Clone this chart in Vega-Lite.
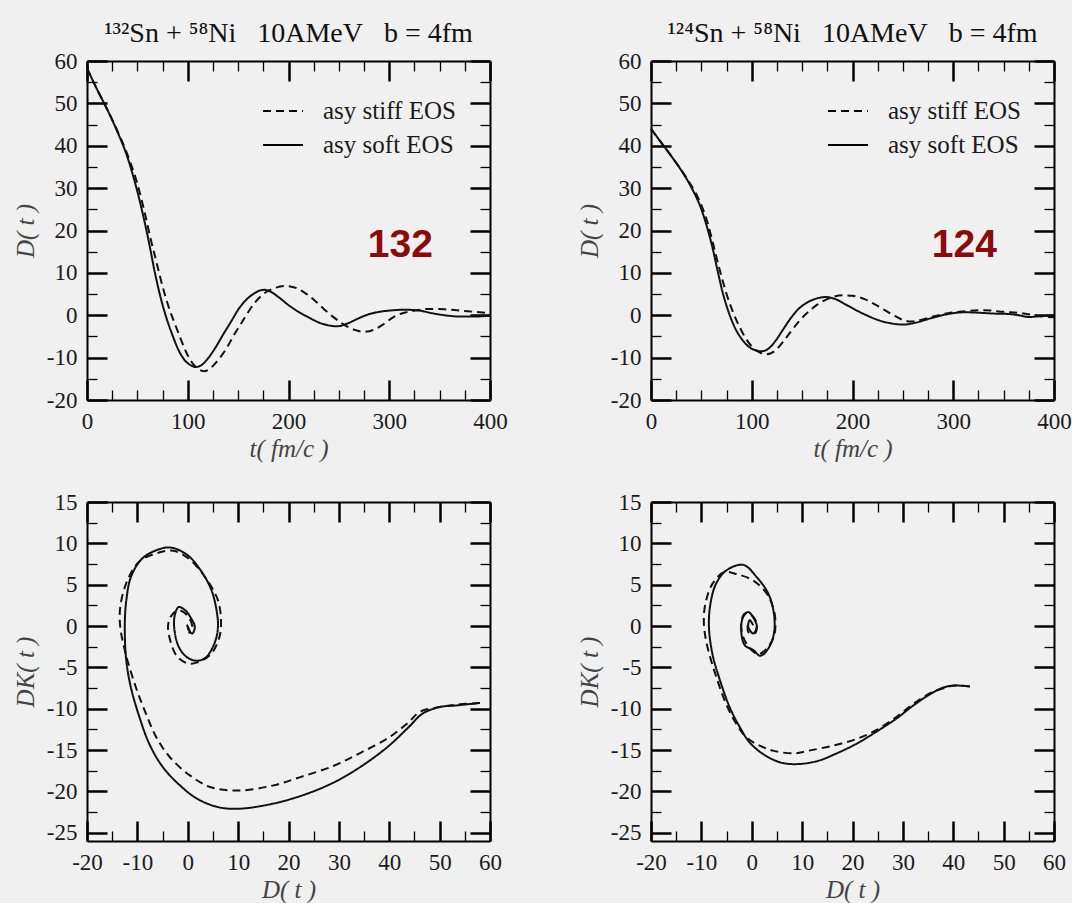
{
  "$schema": "https://vega.github.io/schema/vega-lite/v6.json",
  "background": "#f0f0f0",
  "padding": {"left": 13, "top": 20, "right": 5, "bottom": 5},
  "config": {
    "view": {"stroke": null},
    "axis": {
      "domainColor": "#000",
      "domainWidth": 2,
      "tickColor": "#000",
      "grid": false,
      "labelFont": "Liberation Serif",
      "labelFontSize": 23,
      "labelColor": "#1a1a1a",
      "labelFlush": false,
      "labelOverlap": false,
      "titleFont": "Liberation Serif",
      "titleFontStyle": "italic",
      "titleFontWeight": "normal",
      "titleFontSize": 25,
      "titleColor": "#444"
    },
    "title": {"font": "Liberation Serif", "fontSize": 28, "fontWeight": "normal", "color": "#111", "offset": 2}
  },
  "datasets": {
    "ts132": [
      {"t": 0, "D": 58.3, "series": "asy soft EOS"}, {"t": 10, "D": 53.3, "series": "asy soft EOS"}, {"t": 20, "D": 48.6, "series": "asy soft EOS"}, {"t": 30, "D": 43.4, "series": "asy soft EOS"}, {"t": 40, "D": 37.4, "series": "asy soft EOS"}, {"t": 50, "D": 29.2, "series": "asy soft EOS"}, {"t": 57, "D": 22.2, "series": "asy soft EOS"}, {"t": 62, "D": 16.6, "series": "asy soft EOS"}, {"t": 67, "D": 10.5, "series": "asy soft EOS"}, {"t": 72, "D": 5.2, "series": "asy soft EOS"}, {"t": 78, "D": 0, "series": "asy soft EOS"}, {"t": 85, "D": -4.8, "series": "asy soft EOS"}, {"t": 91, "D": -8.3, "series": "asy soft EOS"}, {"t": 97, "D": -10.6, "series": "asy soft EOS"}, {"t": 103, "D": -11.8, "series": "asy soft EOS"}, {"t": 108, "D": -12.2, "series": "asy soft EOS"}, {"t": 114, "D": -11.7, "series": "asy soft EOS"}, {"t": 120, "D": -10.2, "series": "asy soft EOS"}, {"t": 126, "D": -8.2, "series": "asy soft EOS"}, {"t": 135, "D": -4.6, "series": "asy soft EOS"}, {"t": 144, "D": -1.1, "series": "asy soft EOS"}, {"t": 150, "D": 1.3, "series": "asy soft EOS"}, {"t": 157, "D": 3.4, "series": "asy soft EOS"}, {"t": 165, "D": 5, "series": "asy soft EOS"}, {"t": 171, "D": 5.8, "series": "asy soft EOS"}, {"t": 176, "D": 6, "series": "asy soft EOS"}, {"t": 182, "D": 5.6, "series": "asy soft EOS"}, {"t": 190, "D": 4.3, "series": "asy soft EOS"}, {"t": 200, "D": 2.4, "series": "asy soft EOS"}, {"t": 210, "D": 0.8, "series": "asy soft EOS"}, {"t": 220, "D": -0.5, "series": "asy soft EOS"}, {"t": 230, "D": -1.7, "series": "asy soft EOS"}, {"t": 240, "D": -2.4, "series": "asy soft EOS"}, {"t": 248, "D": -2.6, "series": "asy soft EOS"}, {"t": 258, "D": -2, "series": "asy soft EOS"}, {"t": 268, "D": -0.9, "series": "asy soft EOS"}, {"t": 278, "D": 0.1, "series": "asy soft EOS"}, {"t": 290, "D": 0.8, "series": "asy soft EOS"}, {"t": 300, "D": 1.1, "series": "asy soft EOS"}, {"t": 315, "D": 1.3, "series": "asy soft EOS"}, {"t": 330, "D": 1.1, "series": "asy soft EOS"}, {"t": 342, "D": 0.5, "series": "asy soft EOS"}, {"t": 355, "D": 0, "series": "asy soft EOS"}, {"t": 370, "D": -0.3, "series": "asy soft EOS"}, {"t": 385, "D": -0.3, "series": "asy soft EOS"}, {"t": 400, "D": -0.1, "series": "asy soft EOS"},
      {"t": 0, "D": 58.3, "series": "asy stiff EOS"}, {"t": 10, "D": 53.3, "series": "asy stiff EOS"}, {"t": 20, "D": 48.6, "series": "asy stiff EOS"}, {"t": 30, "D": 43.6, "series": "asy stiff EOS"}, {"t": 40, "D": 38, "series": "asy stiff EOS"}, {"t": 50, "D": 31, "series": "asy stiff EOS"}, {"t": 57, "D": 24.5, "series": "asy stiff EOS"}, {"t": 63, "D": 18.2, "series": "asy stiff EOS"}, {"t": 69, "D": 12.5, "series": "asy stiff EOS"}, {"t": 75, "D": 6.8, "series": "asy stiff EOS"}, {"t": 81, "D": 2, "series": "asy stiff EOS"}, {"t": 88, "D": -2.5, "series": "asy stiff EOS"}, {"t": 93, "D": -5.6, "series": "asy stiff EOS"}, {"t": 98, "D": -8.5, "series": "asy stiff EOS"}, {"t": 104, "D": -11.1, "series": "asy stiff EOS"}, {"t": 110, "D": -12.6, "series": "asy stiff EOS"}, {"t": 116, "D": -13.2, "series": "asy stiff EOS"}, {"t": 122, "D": -12.6, "series": "asy stiff EOS"}, {"t": 128, "D": -11.2, "series": "asy stiff EOS"}, {"t": 133, "D": -9.7, "series": "asy stiff EOS"}, {"t": 138, "D": -8, "series": "asy stiff EOS"}, {"t": 146, "D": -4.6, "series": "asy stiff EOS"}, {"t": 152, "D": -2.3, "series": "asy stiff EOS"}, {"t": 158, "D": 0, "series": "asy stiff EOS"}, {"t": 166, "D": 2.8, "series": "asy stiff EOS"}, {"t": 176, "D": 5.2, "series": "asy stiff EOS"}, {"t": 186, "D": 6.4, "series": "asy stiff EOS"}, {"t": 197, "D": 6.9, "series": "asy stiff EOS"}, {"t": 208, "D": 6.4, "series": "asy stiff EOS"}, {"t": 218, "D": 5, "series": "asy stiff EOS"}, {"t": 226, "D": 3.5, "series": "asy stiff EOS"}, {"t": 235, "D": 1.5, "series": "asy stiff EOS"}, {"t": 245, "D": -0.5, "series": "asy stiff EOS"}, {"t": 255, "D": -2.2, "series": "asy stiff EOS"}, {"t": 265, "D": -3.4, "series": "asy stiff EOS"}, {"t": 275, "D": -3.9, "series": "asy stiff EOS"}, {"t": 285, "D": -3.4, "series": "asy stiff EOS"}, {"t": 295, "D": -2, "series": "asy stiff EOS"}, {"t": 305, "D": -0.3, "series": "asy stiff EOS"}, {"t": 315, "D": 0.6, "series": "asy stiff EOS"}, {"t": 325, "D": 1.1, "series": "asy stiff EOS"}, {"t": 340, "D": 1.5, "series": "asy stiff EOS"}, {"t": 355, "D": 1.4, "series": "asy stiff EOS"}, {"t": 370, "D": 1.1, "series": "asy stiff EOS"}, {"t": 385, "D": 0.8, "series": "asy stiff EOS"}, {"t": 400, "D": 0.5, "series": "asy stiff EOS"}
    ],
    "ts124": [
      {"t": 0, "D": 44, "series": "asy soft EOS"}, {"t": 10, "D": 40.8, "series": "asy soft EOS"}, {"t": 20, "D": 37.6, "series": "asy soft EOS"}, {"t": 30, "D": 34.2, "series": "asy soft EOS"}, {"t": 40, "D": 30.2, "series": "asy soft EOS"}, {"t": 50, "D": 25, "series": "asy soft EOS"}, {"t": 56, "D": 20.5, "series": "asy soft EOS"}, {"t": 61, "D": 16, "series": "asy soft EOS"}, {"t": 66, "D": 10.6, "series": "asy soft EOS"}, {"t": 71, "D": 5.5, "series": "asy soft EOS"}, {"t": 77, "D": 0.8, "series": "asy soft EOS"}, {"t": 83, "D": -2.8, "series": "asy soft EOS"}, {"t": 90, "D": -5.6, "series": "asy soft EOS"}, {"t": 97, "D": -7.4, "series": "asy soft EOS"}, {"t": 104, "D": -8.3, "series": "asy soft EOS"}, {"t": 110, "D": -8.5, "series": "asy soft EOS"}, {"t": 117, "D": -7.8, "series": "asy soft EOS"}, {"t": 124, "D": -5.9, "series": "asy soft EOS"}, {"t": 131, "D": -3.4, "series": "asy soft EOS"}, {"t": 139, "D": -0.6, "series": "asy soft EOS"}, {"t": 146, "D": 1.4, "series": "asy soft EOS"}, {"t": 155, "D": 3, "series": "asy soft EOS"}, {"t": 165, "D": 4, "series": "asy soft EOS"}, {"t": 174, "D": 4.3, "series": "asy soft EOS"}, {"t": 182, "D": 3.9, "series": "asy soft EOS"}, {"t": 192, "D": 2.7, "series": "asy soft EOS"}, {"t": 202, "D": 1.4, "series": "asy soft EOS"}, {"t": 213, "D": 0.1, "series": "asy soft EOS"}, {"t": 225, "D": -1.1, "series": "asy soft EOS"}, {"t": 238, "D": -1.9, "series": "asy soft EOS"}, {"t": 250, "D": -2.2, "series": "asy soft EOS"}, {"t": 262, "D": -1.8, "series": "asy soft EOS"}, {"t": 275, "D": -0.9, "series": "asy soft EOS"}, {"t": 289, "D": 0, "series": "asy soft EOS"}, {"t": 300, "D": 0.5, "series": "asy soft EOS"}, {"t": 311, "D": 0.7, "series": "asy soft EOS"}, {"t": 325, "D": 0.6, "series": "asy soft EOS"}, {"t": 340, "D": 0.4, "series": "asy soft EOS"}, {"t": 355, "D": 0.3, "series": "asy soft EOS"}, {"t": 365, "D": 0, "series": "asy soft EOS"}, {"t": 375, "D": -0.4, "series": "asy soft EOS"}, {"t": 388, "D": -0.2, "series": "asy soft EOS"}, {"t": 400, "D": 0, "series": "asy soft EOS"},
      {"t": 0, "D": 44, "series": "asy stiff EOS"}, {"t": 10, "D": 40.8, "series": "asy stiff EOS"}, {"t": 20, "D": 37.6, "series": "asy stiff EOS"}, {"t": 30, "D": 34.3, "series": "asy stiff EOS"}, {"t": 40, "D": 30.6, "series": "asy stiff EOS"}, {"t": 50, "D": 26, "series": "asy stiff EOS"}, {"t": 56, "D": 22, "series": "asy stiff EOS"}, {"t": 62, "D": 16.5, "series": "asy stiff EOS"}, {"t": 69, "D": 10, "series": "asy stiff EOS"}, {"t": 75, "D": 5, "series": "asy stiff EOS"}, {"t": 81, "D": 1, "series": "asy stiff EOS"}, {"t": 88, "D": -2.8, "series": "asy stiff EOS"}, {"t": 95, "D": -5.8, "series": "asy stiff EOS"}, {"t": 102, "D": -7.8, "series": "asy stiff EOS"}, {"t": 109, "D": -8.9, "series": "asy stiff EOS"}, {"t": 115, "D": -9.2, "series": "asy stiff EOS"}, {"t": 122, "D": -8.6, "series": "asy stiff EOS"}, {"t": 130, "D": -6.6, "series": "asy stiff EOS"}, {"t": 138, "D": -4.1, "series": "asy stiff EOS"}, {"t": 146, "D": -1.7, "series": "asy stiff EOS"}, {"t": 153, "D": 0.1, "series": "asy stiff EOS"}, {"t": 165, "D": 2.5, "series": "asy stiff EOS"}, {"t": 178, "D": 4.1, "series": "asy stiff EOS"}, {"t": 190, "D": 4.7, "series": "asy stiff EOS"}, {"t": 200, "D": 4.6, "series": "asy stiff EOS"}, {"t": 212, "D": 3.8, "series": "asy stiff EOS"}, {"t": 225, "D": 2.2, "series": "asy stiff EOS"}, {"t": 240, "D": 0.1, "series": "asy stiff EOS"}, {"t": 250, "D": -1.1, "series": "asy stiff EOS"}, {"t": 258, "D": -1.5, "series": "asy stiff EOS"}, {"t": 268, "D": -1.1, "series": "asy stiff EOS"}, {"t": 280, "D": -0.3, "series": "asy stiff EOS"}, {"t": 295, "D": 0.5, "series": "asy stiff EOS"}, {"t": 310, "D": 0.9, "series": "asy stiff EOS"}, {"t": 330, "D": 1.2, "series": "asy stiff EOS"}, {"t": 350, "D": 0.8, "series": "asy stiff EOS"}, {"t": 370, "D": 0.4, "series": "asy stiff EOS"}, {"t": 385, "D": -0.2, "series": "asy stiff EOS"}, {"t": 400, "D": -0.5, "series": "asy stiff EOS"}
    ],
    "ph132": [
      {"i": 0, "D": 58.0, "DK": -9.3, "series": "asy soft EOS"}, {"i": 1, "D": 53.4, "DK": -9.6, "series": "asy soft EOS"}, {"i": 2, "D": 50, "DK": -9.8, "series": "asy soft EOS"}, {"i": 3, "D": 46.6, "DK": -10.6, "series": "asy soft EOS"}, {"i": 4, "D": 43.9, "DK": -12.2, "series": "asy soft EOS"}, {"i": 5, "D": 39.9, "DK": -14.5, "series": "asy soft EOS"}, {"i": 6, "D": 35.1, "DK": -16.7, "series": "asy soft EOS"}, {"i": 7, "D": 29.7, "DK": -18.7, "series": "asy soft EOS"}, {"i": 8, "D": 23.6, "DK": -20.3, "series": "asy soft EOS"}, {"i": 9, "D": 16.8, "DK": -21.5, "series": "asy soft EOS"}, {"i": 10, "D": 10, "DK": -22.1, "series": "asy soft EOS"}, {"i": 11, "D": 6, "DK": -21.9, "series": "asy soft EOS"}, {"i": 12, "D": 1.9, "DK": -20.9, "series": "asy soft EOS"}, {"i": 13, "D": -1.5, "DK": -19.3, "series": "asy soft EOS"}, {"i": 14, "D": -4.9, "DK": -17.1, "series": "asy soft EOS"}, {"i": 15, "D": -7.6, "DK": -14.3, "series": "asy soft EOS"}, {"i": 16, "D": -9.6, "DK": -11, "series": "asy soft EOS"}, {"i": 17, "D": -11.3, "DK": -7.4, "series": "asy soft EOS"}, {"i": 18, "D": -12.2, "DK": -4.2, "series": "asy soft EOS"}, {"i": 19, "D": -12.5, "DK": -0.1, "series": "asy soft EOS"}, {"i": 20, "D": -12.2, "DK": 3.1, "series": "asy soft EOS"}, {"i": 21, "D": -11.3, "DK": 5.9, "series": "asy soft EOS"}, {"i": 22, "D": -9.3, "DK": 8.0, "series": "asy soft EOS"}, {"i": 23, "D": -6.9, "DK": 9.0, "series": "asy soft EOS"}, {"i": 24, "D": -3.5, "DK": 9.5, "series": "asy soft EOS"}, {"i": 25, "D": -0.1, "DK": 8.6, "series": "asy soft EOS"}, {"i": 26, "D": 2.6, "DK": 6.7, "series": "asy soft EOS"}, {"i": 27, "D": 4.6, "DK": 4.5, "series": "asy soft EOS"}, {"i": 28, "D": 5.6, "DK": 2.3, "series": "asy soft EOS"}, {"i": 29, "D": 6, "DK": -0.1, "series": "asy soft EOS"}, {"i": 30, "D": 5.3, "DK": -2.1, "series": "asy soft EOS"}, {"i": 31, "D": 3.6, "DK": -3.8, "series": "asy soft EOS"}, {"i": 32, "D": 1.9, "DK": -4.2, "series": "asy soft EOS"}, {"i": 33, "D": -0.1, "DK": -3.8, "series": "asy soft EOS"}, {"i": 34, "D": -1.8, "DK": -2.5, "series": "asy soft EOS"}, {"i": 35, "D": -2.7, "DK": -0.1, "series": "asy soft EOS"}, {"i": 36, "D": -2.5, "DK": 1.5, "series": "asy soft EOS"}, {"i": 37, "D": -1.8, "DK": 2.3, "series": "asy soft EOS"}, {"i": 38, "D": -0.5, "DK": 1.9, "series": "asy soft EOS"}, {"i": 39, "D": 0.5, "DK": 1.1, "series": "asy soft EOS"}, {"i": 40, "D": 1.4, "DK": -0.1, "series": "asy soft EOS"}, {"i": 41, "D": 0.9, "DK": -0.9, "series": "asy soft EOS"}, {"i": 42, "D": 0.2, "DK": -0.5, "series": "asy soft EOS"}, {"i": 43, "D": -0.1, "DK": 0.1, "series": "asy soft EOS"}, {"i": 44, "D": 0.5, "DK": -0.8, "series": "asy soft EOS"},
      {"i": 0, "D": 58.0, "DK": -9.3, "series": "asy stiff EOS"}, {"i": 1, "D": 53.4, "DK": -9.5, "series": "asy stiff EOS"}, {"i": 2, "D": 50, "DK": -9.8, "series": "asy stiff EOS"}, {"i": 3, "D": 46, "DK": -10.4, "series": "asy stiff EOS"}, {"i": 4, "D": 43.9, "DK": -11.6, "series": "asy stiff EOS"}, {"i": 5, "D": 39.9, "DK": -13.5, "series": "asy stiff EOS"}, {"i": 6, "D": 34.4, "DK": -15.3, "series": "asy stiff EOS"}, {"i": 7, "D": 29, "DK": -16.9, "series": "asy stiff EOS"}, {"i": 8, "D": 22.2, "DK": -18.3, "series": "asy stiff EOS"}, {"i": 9, "D": 16.8, "DK": -19.3, "series": "asy stiff EOS"}, {"i": 10, "D": 10, "DK": -19.9, "series": "asy stiff EOS"}, {"i": 11, "D": 4.6, "DK": -19.5, "series": "asy stiff EOS"}, {"i": 12, "D": 0.5, "DK": -18.1, "series": "asy stiff EOS"}, {"i": 13, "D": -3.5, "DK": -15.9, "series": "asy stiff EOS"}, {"i": 14, "D": -6.2, "DK": -13.5, "series": "asy stiff EOS"}, {"i": 15, "D": -8.3, "DK": -10.6, "series": "asy stiff EOS"}, {"i": 16, "D": -10.3, "DK": -7.4, "series": "asy stiff EOS"}, {"i": 17, "D": -12.3, "DK": -3.4, "series": "asy stiff EOS"}, {"i": 18, "D": -13.4, "DK": -0.1, "series": "asy stiff EOS"}, {"i": 19, "D": -13.4, "DK": 2.3, "series": "asy stiff EOS"}, {"i": 20, "D": -12, "DK": 5.5, "series": "asy stiff EOS"}, {"i": 21, "D": -9.6, "DK": 7.8, "series": "asy stiff EOS"}, {"i": 22, "D": -6.2, "DK": 8.8, "series": "asy stiff EOS"}, {"i": 23, "D": -2.8, "DK": 9.1, "series": "asy stiff EOS"}, {"i": 24, "D": 0.5, "DK": 8.0, "series": "asy stiff EOS"}, {"i": 25, "D": 3.9, "DK": 5.5, "series": "asy stiff EOS"}, {"i": 26, "D": 6, "DK": 3.1, "series": "asy stiff EOS"}, {"i": 27, "D": 6.6, "DK": 0.7, "series": "asy stiff EOS"}, {"i": 28, "D": 6.3, "DK": -1.3, "series": "asy stiff EOS"}, {"i": 29, "D": 4.6, "DK": -3.4, "series": "asy stiff EOS"}, {"i": 30, "D": 1.9, "DK": -4.4, "series": "asy stiff EOS"}, {"i": 31, "D": -0.1, "DK": -4.5, "series": "asy stiff EOS"}, {"i": 32, "D": -2.2, "DK": -3.6, "series": "asy stiff EOS"}, {"i": 33, "D": -3.5, "DK": -1.7, "series": "asy stiff EOS"}, {"i": 34, "D": -3.9, "DK": 0.1, "series": "asy stiff EOS"}, {"i": 35, "D": -3.2, "DK": 1.3, "series": "asy stiff EOS"}, {"i": 36, "D": -1.8, "DK": 1.9, "series": "asy stiff EOS"}, {"i": 37, "D": -0.1, "DK": 1.3, "series": "asy stiff EOS"}, {"i": 38, "D": 0.9, "DK": -0.1, "series": "asy stiff EOS"}, {"i": 39, "D": 0.2, "DK": -0.9, "series": "asy stiff EOS"}
    ],
    "ph124": [
      {"i": 0, "D": 43.3, "DK": -7.3, "series": "asy soft EOS"}, {"i": 1, "D": 40.2, "DK": -7.2, "series": "asy soft EOS"}, {"i": 2, "D": 38.2, "DK": -7.4, "series": "asy soft EOS"}, {"i": 3, "D": 35.5, "DK": -8.2, "series": "asy soft EOS"}, {"i": 4, "D": 32.1, "DK": -9.6, "series": "asy soft EOS"}, {"i": 5, "D": 28.7, "DK": -11.2, "series": "asy soft EOS"}, {"i": 6, "D": 24.7, "DK": -12.8, "series": "asy soft EOS"}, {"i": 7, "D": 20.6, "DK": -14.3, "series": "asy soft EOS"}, {"i": 8, "D": 16.5, "DK": -15.5, "series": "asy soft EOS"}, {"i": 9, "D": 13.2, "DK": -16.3, "series": "asy soft EOS"}, {"i": 10, "D": 9.1, "DK": -16.7, "series": "asy soft EOS"}, {"i": 11, "D": 5.7, "DK": -16.5, "series": "asy soft EOS"}, {"i": 12, "D": 2.3, "DK": -15.5, "series": "asy soft EOS"}, {"i": 13, "D": -0.4, "DK": -14.1, "series": "asy soft EOS"}, {"i": 14, "D": -2.4, "DK": -12.2, "series": "asy soft EOS"}, {"i": 15, "D": -4.4, "DK": -9.8, "series": "asy soft EOS"}, {"i": 16, "D": -6.5, "DK": -6.2, "series": "asy soft EOS"}, {"i": 17, "D": -7.8, "DK": -3.4, "series": "asy soft EOS"}, {"i": 18, "D": -8.5, "DK": -0.1, "series": "asy soft EOS"}, {"i": 19, "D": -8.2, "DK": 2.7, "series": "asy soft EOS"}, {"i": 20, "D": -7.1, "DK": 5.1, "series": "asy soft EOS"}, {"i": 21, "D": -5.1, "DK": 6.7, "series": "asy soft EOS"}, {"i": 22, "D": -1.7, "DK": 7.4, "series": "asy soft EOS"}, {"i": 23, "D": 1, "DK": 5.9, "series": "asy soft EOS"}, {"i": 24, "D": 3.3, "DK": 3.9, "series": "asy soft EOS"}, {"i": 25, "D": 4.4, "DK": 1.5, "series": "asy soft EOS"}, {"i": 26, "D": 4.4, "DK": -0.9, "series": "asy soft EOS"}, {"i": 27, "D": 3.3, "DK": -2.7, "series": "asy soft EOS"}, {"i": 28, "D": 1.7, "DK": -3.6, "series": "asy soft EOS"}, {"i": 29, "D": 0.3, "DK": -2.9, "series": "asy soft EOS"}, {"i": 30, "D": -1.4, "DK": -2.3, "series": "asy soft EOS"}, {"i": 31, "D": -2.1, "DK": -0.5, "series": "asy soft EOS"}, {"i": 32, "D": -1.7, "DK": 1.1, "series": "asy soft EOS"}, {"i": 33, "D": -0.7, "DK": 1.7, "series": "asy soft EOS"}, {"i": 34, "D": 0.6, "DK": 0.7, "series": "asy soft EOS"}, {"i": 35, "D": 1, "DK": -0.1, "series": "asy soft EOS"}, {"i": 36, "D": 0.3, "DK": -0.9, "series": "asy soft EOS"}, {"i": 37, "D": -0.7, "DK": -0.1, "series": "asy soft EOS"}, {"i": 38, "D": -0.4, "DK": 0.7, "series": "asy soft EOS"}, {"i": 39, "D": 0.3, "DK": 0.1, "series": "asy soft EOS"},
      {"i": 0, "D": 43.3, "DK": -7.3, "series": "asy stiff EOS"}, {"i": 1, "D": 40.2, "DK": -7.2, "series": "asy stiff EOS"}, {"i": 2, "D": 38.2, "DK": -7.5, "series": "asy stiff EOS"}, {"i": 3, "D": 35.5, "DK": -8.1, "series": "asy stiff EOS"}, {"i": 4, "D": 32.1, "DK": -9.4, "series": "asy stiff EOS"}, {"i": 5, "D": 28.7, "DK": -11, "series": "asy stiff EOS"}, {"i": 6, "D": 24.7, "DK": -12.6, "series": "asy stiff EOS"}, {"i": 7, "D": 20.6, "DK": -13.7, "series": "asy stiff EOS"}, {"i": 8, "D": 15.9, "DK": -14.5, "series": "asy stiff EOS"}, {"i": 9, "D": 11.1, "DK": -15.1, "series": "asy stiff EOS"}, {"i": 10, "D": 8.4, "DK": -15.4, "series": "asy stiff EOS"}, {"i": 11, "D": 4.4, "DK": -15.1, "series": "asy stiff EOS"}, {"i": 12, "D": 1.7, "DK": -14.5, "series": "asy stiff EOS"}, {"i": 13, "D": -1, "DK": -13.5, "series": "asy stiff EOS"}, {"i": 14, "D": -3.1, "DK": -11.8, "series": "asy stiff EOS"}, {"i": 15, "D": -5.1, "DK": -9.4, "series": "asy stiff EOS"}, {"i": 16, "D": -6.8, "DK": -6.6, "series": "asy stiff EOS"}, {"i": 17, "D": -8.8, "DK": -2.5, "series": "asy stiff EOS"}, {"i": 18, "D": -9.5, "DK": 0.3, "series": "asy stiff EOS"}, {"i": 19, "D": -9.2, "DK": 2.7, "series": "asy stiff EOS"}, {"i": 20, "D": -7.8, "DK": 5.1, "series": "asy stiff EOS"}, {"i": 21, "D": -5.5, "DK": 6.5, "series": "asy stiff EOS"}, {"i": 22, "D": -3.1, "DK": 6.3, "series": "asy stiff EOS"}, {"i": 23, "D": 0.3, "DK": 5.5, "series": "asy stiff EOS"}, {"i": 24, "D": 3, "DK": 3.9, "series": "asy stiff EOS"}, {"i": 25, "D": 4.4, "DK": 1.9, "series": "asy stiff EOS"}, {"i": 26, "D": 4.7, "DK": 0.3, "series": "asy stiff EOS"}, {"i": 27, "D": 4.4, "DK": -1.3, "series": "asy stiff EOS"}, {"i": 28, "D": 3, "DK": -2.7, "series": "asy stiff EOS"}, {"i": 29, "D": 1.3, "DK": -3.4, "series": "asy stiff EOS"}, {"i": 30, "D": -0.4, "DK": -2.7, "series": "asy stiff EOS"}, {"i": 31, "D": -1.7, "DK": -1.3, "series": "asy stiff EOS"}, {"i": 32, "D": -2.1, "DK": 0.3, "series": "asy stiff EOS"}, {"i": 33, "D": -1.4, "DK": 1.5, "series": "asy stiff EOS"}, {"i": 34, "D": 0, "DK": 1.3, "series": "asy stiff EOS"}, {"i": 35, "D": 1, "DK": 0.3, "series": "asy stiff EOS"}, {"i": 36, "D": 0.6, "DK": -0.9, "series": "asy stiff EOS"}, {"i": 37, "D": -0.7, "DK": -0.7, "series": "asy stiff EOS"}, {"i": 38, "D": -0.7, "DK": 0.5, "series": "asy stiff EOS"}
    ],
    "lab132": [{"t": 311, "D": 16.6, "label": "132"}],
    "lab124": [{"t": 311, "D": 16.6, "label": "124"}]
  },
  "columns": 2,
  "spacing": {"row": 102, "column": 161},
  "bounds": "flush",
  "resolve": {
    "scale": {"x": "independent", "y": "independent", "strokeDash": "independent"},
    "legend": {"strokeDash": "independent"}
  },
  "concat": [
    {
      "width": 403, "height": 339,
      "title": {"text": "¹³²Sn + ⁵⁸Ni\u00a0\u00a0\u00a010AMeV\u00a0\u00a0\u00a0b = 4fm"},
      "resolve": {"axis": {"x": "independent", "y": "independent"}},
      "layer": [
        {
          "data": {"name": "ts132"},
          "mark": {"type": "line", "color": "#111", "strokeWidth": 2, "interpolate": "monotone"},
          "encoding": {
            "x": {"field": "t", "type": "quantitative", "scale": {"domain": [0, 400], "nice": false, "zero": false},
              "axis": {"orient": "bottom", "title": "t( fm/c )", "values": [0,25,50,75,100,125,150,175,200,225,250,275,300,325,350,375,400],
                "tickSize": {"condition": {"test": "datum.value % 100 === 0", "value": -20}, "value": -10},
                "tickWidth": {"condition": {"test": "datum.value % 100 === 0", "value": 2.5}, "value": 1.3},
                "labelExpr": "datum.value % 100 === 0 ? '' + datum.value : ''", "labelPadding": 30, "titlePadding": -7}},
            "y": {"field": "D", "type": "quantitative", "scale": {"domain": [-20, 60], "nice": false, "zero": false},
              "axis": {"orient": "left", "title": "D( t )", "values": [-20,-15,-10,-5,0,5,10,15,20,25,30,35,40,45,50,55,60],
                "tickSize": {"condition": {"test": "datum.value % 10 === 0", "value": -20}, "value": -10},
                "tickWidth": {"condition": {"test": "datum.value % 10 === 0", "value": 2.5}, "value": 1.3},
                "labelExpr": "datum.value % 10 === 0 ? '' + datum.value : ''", "labelPadding": 30, "titlePadding": 8}},
            "strokeDash": {"field": "series", "type": "nominal",
              "scale": {"domain": ["asy stiff EOS", "asy soft EOS"], "range": [[8, 5], [1, 0]]},
              "legend": {"orient": "none", "legendX": 175, "legendY": 29, "title": null, "symbolType": "stroke", "symbolSize": 1600, "symbolStrokeWidth": 2, "symbolStrokeColor": "#000", "labelFont": "Liberation Serif", "labelFontSize": 25, "labelColor": "#1a1a1a", "labelOffset": 19, "rowPadding": -10, "padding": 0}}
          }
        },
        {
          "data": {"name": "lab132"},
          "mark": {"type": "text", "font": "'Liberation Sans Narrow', 'Arial Narrow', 'Liberation Sans', sans-serif", "fontWeight": "bold", "fontSize": 39, "color": "#8b0a0a", "baseline": "middle", "align": "center"},
          "encoding": {
            "x": {"field": "t", "type": "quantitative", "scale": {"domain": [0, 400], "nice": false, "zero": false},
              "axis": {"orient": "top", "title": null, "labels": false, "values": [0,25,50,75,100,125,150,175,200,225,250,275,300,325,350,375,400],
                "tickSize": {"condition": {"test": "datum.value % 100 === 0", "value": -20}, "value": -10},
                "tickWidth": {"condition": {"test": "datum.value % 100 === 0", "value": 2.5}, "value": 1.3}}},
            "y": {"field": "D", "type": "quantitative", "scale": {"domain": [-20, 60], "nice": false, "zero": false},
              "axis": {"orient": "right", "title": null, "labels": false, "values": [-20,-15,-10,-5,0,5,10,15,20,25,30,35,40,45,50,55,60],
                "tickSize": {"condition": {"test": "datum.value % 10 === 0", "value": -20}, "value": -10},
                "tickWidth": {"condition": {"test": "datum.value % 10 === 0", "value": 2.5}, "value": 1.3}}},
            "text": {"field": "label"}
          }
        }
      ]
    },
    {
      "width": 403, "height": 339,
      "title": {"text": "¹²⁴Sn + ⁵⁸Ni\u00a0\u00a0\u00a010AMeV\u00a0\u00a0\u00a0b = 4fm"},
      "resolve": {"axis": {"x": "independent", "y": "independent"}},
      "layer": [
        {
          "data": {"name": "ts124"},
          "mark": {"type": "line", "color": "#111", "strokeWidth": 2, "interpolate": "monotone"},
          "encoding": {
            "x": {"field": "t", "type": "quantitative", "scale": {"domain": [0, 400], "nice": false, "zero": false},
              "axis": {"orient": "bottom", "title": "t( fm/c )", "values": [0,25,50,75,100,125,150,175,200,225,250,275,300,325,350,375,400],
                "tickSize": {"condition": {"test": "datum.value % 100 === 0", "value": -20}, "value": -10},
                "tickWidth": {"condition": {"test": "datum.value % 100 === 0", "value": 2.5}, "value": 1.3},
                "labelExpr": "datum.value % 100 === 0 ? '' + datum.value : ''", "labelPadding": 30, "titlePadding": -7}},
            "y": {"field": "D", "type": "quantitative", "scale": {"domain": [-20, 60], "nice": false, "zero": false},
              "axis": {"orient": "left", "title": "D( t )", "values": [-20,-15,-10,-5,0,5,10,15,20,25,30,35,40,45,50,55,60],
                "tickSize": {"condition": {"test": "datum.value % 10 === 0", "value": -20}, "value": -10},
                "tickWidth": {"condition": {"test": "datum.value % 10 === 0", "value": 2.5}, "value": 1.3},
                "labelExpr": "datum.value % 10 === 0 ? '' + datum.value : ''", "labelPadding": 30, "titlePadding": 8}},
            "strokeDash": {"field": "series", "type": "nominal",
              "scale": {"domain": ["asy stiff EOS", "asy soft EOS"], "range": [[8, 5], [1, 0]]},
              "legend": {"orient": "none", "legendX": 176, "legendY": 29, "title": null, "symbolType": "stroke", "symbolSize": 1600, "symbolStrokeWidth": 2, "symbolStrokeColor": "#000", "labelFont": "Liberation Serif", "labelFontSize": 25, "labelColor": "#1a1a1a", "labelOffset": 19, "rowPadding": -10, "padding": 0}}
          }
        },
        {
          "data": {"name": "lab124"},
          "mark": {"type": "text", "font": "'Liberation Sans Narrow', 'Arial Narrow', 'Liberation Sans', sans-serif", "fontWeight": "bold", "fontSize": 39, "color": "#8b0a0a", "baseline": "middle", "align": "center"},
          "encoding": {
            "x": {"field": "t", "type": "quantitative", "scale": {"domain": [0, 400], "nice": false, "zero": false},
              "axis": {"orient": "top", "title": null, "labels": false, "values": [0,25,50,75,100,125,150,175,200,225,250,275,300,325,350,375,400],
                "tickSize": {"condition": {"test": "datum.value % 100 === 0", "value": -20}, "value": -10},
                "tickWidth": {"condition": {"test": "datum.value % 100 === 0", "value": 2.5}, "value": 1.3}}},
            "y": {"field": "D", "type": "quantitative", "scale": {"domain": [-20, 60], "nice": false, "zero": false},
              "axis": {"orient": "right", "title": null, "labels": false, "values": [-20,-15,-10,-5,0,5,10,15,20,25,30,35,40,45,50,55,60],
                "tickSize": {"condition": {"test": "datum.value % 10 === 0", "value": -20}, "value": -10},
                "tickWidth": {"condition": {"test": "datum.value % 10 === 0", "value": 2.5}, "value": 1.3}}},
            "text": {"field": "label"}
          }
        }
      ]
    },
    {
      "width": 403, "height": 339,
      "resolve": {"axis": {"x": "independent", "y": "independent"}},
      "layer": [
        {
          "data": {"name": "ph132"},
          "mark": {"type": "line", "color": "#111", "strokeWidth": 2, "interpolate": "catmull-rom"},
          "encoding": {
            "x": {"field": "D", "type": "quantitative", "scale": {"domain": [-20, 60], "nice": false, "zero": false},
              "axis": {"orient": "bottom", "title": "D( t )", "values": [-20,-15,-10,-5,0,5,10,15,20,25,30,35,40,45,50,55,60],
                "tickSize": {"condition": {"test": "datum.value % 10 === 0", "value": -20}, "value": -10},
                "tickWidth": {"condition": {"test": "datum.value % 10 === 0", "value": 2.5}, "value": 1.3},
                "labelExpr": "datum.value % 10 === 0 ? '' + datum.value : ''", "labelPadding": 30, "titlePadding": -7}},
            "y": {"field": "DK", "type": "quantitative", "scale": {"domain": [-26, 15], "nice": false, "zero": false},
              "axis": {"orient": "left", "title": "DK( t )", "values": [-25,-22.5,-20,-17.5,-15,-12.5,-10,-7.5,-5,-2.5,0,2.5,5,7.5,10,12.5,15],
                "tickSize": {"condition": {"test": "datum.value % 5 === 0", "value": -20}, "value": -10},
                "tickWidth": {"condition": {"test": "datum.value % 5 === 0", "value": 2.5}, "value": 1.3},
                "labelExpr": "datum.value % 5 === 0 ? '' + datum.value : ''", "labelPadding": 30, "titlePadding": 8}},
            "strokeDash": {"field": "series", "type": "nominal",
              "scale": {"domain": ["asy stiff EOS", "asy soft EOS"], "range": [[8, 5], [1, 0]]}, "legend": null},
            "order": {"field": "i", "type": "quantitative"}
          }
        },
        {
          "data": {"name": "ph132"},
          "mark": {"type": "line", "opacity": 0},
          "encoding": {
            "x": {"field": "D", "type": "quantitative", "scale": {"domain": [-20, 60], "nice": false, "zero": false},
              "axis": {"orient": "top", "title": null, "labels": false, "values": [-20,-15,-10,-5,0,5,10,15,20,25,30,35,40,45,50,55,60],
                "tickSize": {"condition": {"test": "datum.value % 10 === 0", "value": -20}, "value": -10},
                "tickWidth": {"condition": {"test": "datum.value % 10 === 0", "value": 2.5}, "value": 1.3}}},
            "y": {"field": "DK", "type": "quantitative", "scale": {"domain": [-26, 15], "nice": false, "zero": false},
              "axis": {"orient": "right", "title": null, "labels": false, "values": [-25,-22.5,-20,-17.5,-15,-12.5,-10,-7.5,-5,-2.5,0,2.5,5,7.5,10,12.5,15],
                "tickSize": {"condition": {"test": "datum.value % 5 === 0", "value": -20}, "value": -10},
                "tickWidth": {"condition": {"test": "datum.value % 5 === 0", "value": 2.5}, "value": 1.3}}},
            "detail": {"field": "series", "type": "nominal"},
            "order": {"field": "i", "type": "quantitative"}
          }
        }
      ]
    },
    {
      "width": 403, "height": 339,
      "resolve": {"axis": {"x": "independent", "y": "independent"}},
      "layer": [
        {
          "data": {"name": "ph124"},
          "mark": {"type": "line", "color": "#111", "strokeWidth": 2, "interpolate": "catmull-rom"},
          "encoding": {
            "x": {"field": "D", "type": "quantitative", "scale": {"domain": [-20, 60], "nice": false, "zero": false},
              "axis": {"orient": "bottom", "title": "D( t )", "values": [-20,-15,-10,-5,0,5,10,15,20,25,30,35,40,45,50,55,60],
                "tickSize": {"condition": {"test": "datum.value % 10 === 0", "value": -20}, "value": -10},
                "tickWidth": {"condition": {"test": "datum.value % 10 === 0", "value": 2.5}, "value": 1.3},
                "labelExpr": "datum.value % 10 === 0 ? '' + datum.value : ''", "labelPadding": 30, "titlePadding": -7}},
            "y": {"field": "DK", "type": "quantitative", "scale": {"domain": [-26, 15], "nice": false, "zero": false},
              "axis": {"orient": "left", "title": "DK( t )", "values": [-25,-22.5,-20,-17.5,-15,-12.5,-10,-7.5,-5,-2.5,0,2.5,5,7.5,10,12.5,15],
                "tickSize": {"condition": {"test": "datum.value % 5 === 0", "value": -20}, "value": -10},
                "tickWidth": {"condition": {"test": "datum.value % 5 === 0", "value": 2.5}, "value": 1.3},
                "labelExpr": "datum.value % 5 === 0 ? '' + datum.value : ''", "labelPadding": 30, "titlePadding": 8}},
            "strokeDash": {"field": "series", "type": "nominal",
              "scale": {"domain": ["asy stiff EOS", "asy soft EOS"], "range": [[8, 5], [1, 0]]}, "legend": null},
            "order": {"field": "i", "type": "quantitative"}
          }
        },
        {
          "data": {"name": "ph124"},
          "mark": {"type": "line", "opacity": 0},
          "encoding": {
            "x": {"field": "D", "type": "quantitative", "scale": {"domain": [-20, 60], "nice": false, "zero": false},
              "axis": {"orient": "top", "title": null, "labels": false, "values": [-20,-15,-10,-5,0,5,10,15,20,25,30,35,40,45,50,55,60],
                "tickSize": {"condition": {"test": "datum.value % 10 === 0", "value": -20}, "value": -10},
                "tickWidth": {"condition": {"test": "datum.value % 10 === 0", "value": 2.5}, "value": 1.3}}},
            "y": {"field": "DK", "type": "quantitative", "scale": {"domain": [-26, 15], "nice": false, "zero": false},
              "axis": {"orient": "right", "title": null, "labels": false, "values": [-25,-22.5,-20,-17.5,-15,-12.5,-10,-7.5,-5,-2.5,0,2.5,5,7.5,10,12.5,15],
                "tickSize": {"condition": {"test": "datum.value % 5 === 0", "value": -20}, "value": -10},
                "tickWidth": {"condition": {"test": "datum.value % 5 === 0", "value": 2.5}, "value": 1.3}}},
            "detail": {"field": "series", "type": "nominal"},
            "order": {"field": "i", "type": "quantitative"}
          }
        }
      ]
    }
  ]
}
